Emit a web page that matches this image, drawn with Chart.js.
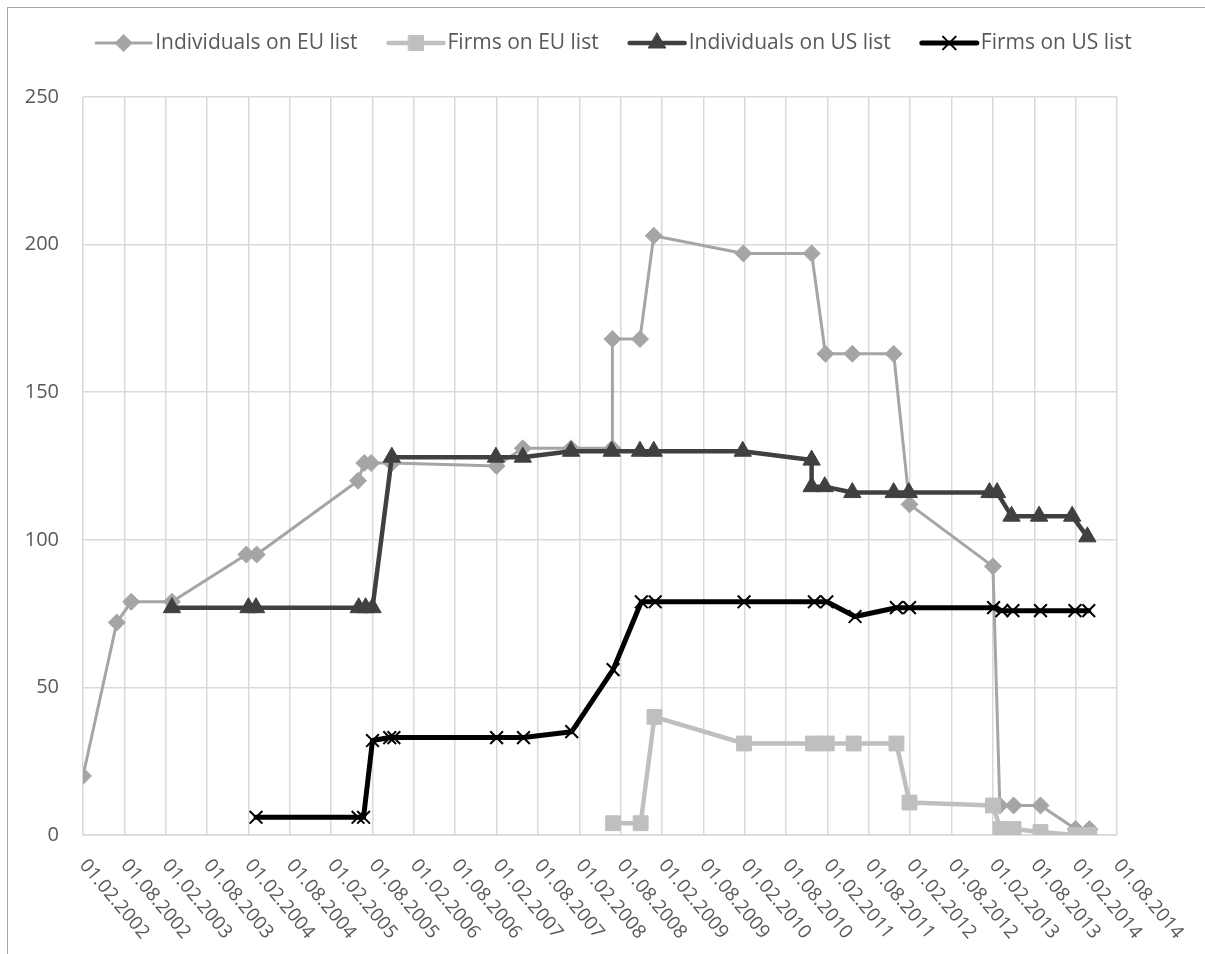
<!DOCTYPE html>
<html>
<head>
<meta charset="utf-8">
<script src="https://cdn.jsdelivr.net/npm/chart.js@4.4.0/dist/chart.umd.min.js"></script>
<style>
	html, body { margin: 0; padding: 0; background: #fff; }
	#frame {
		position: absolute; left: 7px; top: 7px; width: 1300px; height: 1000px;
		border-top: 1px solid #a6a6a6; border-left: 1px solid #a6a6a6;
	}
	#chart { position: absolute; left: 0; top: 0; }
</style>
</head>
<body>
<div id="frame"></div>
<canvas id="chart" width="1205" height="954"></canvas>
<script>
// x values are months counted from 01.02.2002
const xTickLabels = [
	"01.02.2002", "01.08.2002", "01.02.2003", "01.08.2003", "01.02.2004", "01.08.2004",
	"01.02.2005", "01.08.2005", "01.02.2006", "01.08.2006", "01.02.2007", "01.08.2007",
	"01.02.2008", "01.08.2008", "01.02.2009", "01.08.2009", "01.02.2010", "01.08.2010",
	"01.02.2011", "01.08.2011", "01.02.2012", "01.08.2012", "01.02.2013", "01.08.2013",
	"01.02.2014", "01.08.2014",
];
const yTicks = [0, 50, 100, 150, 200, 250];

const seriesNames = ["Individuals on EU list", "Firms on EU list", "Individuals on US list", "Firms on US list"];

const euIndX = [0, 4.9, 7.0, 12.9, 23.7, 25.2, 39.9, 40.8, 41.8, 44.8, 60.0, 63.8, 70.8, 76.8, 76.8, 80.8, 82.8, 95.8, 105.7, 107.7, 111.6, 117.6, 119.9, 132.0, 133.0, 135.0, 138.9, 144.0, 146.0];
const euIndY = [20, 72, 79, 79, 95, 95, 120, 126, 126, 126, 125, 131, 131, 131, 168, 168, 203, 197, 197, 163, 163, 163, 112, 91, 10, 10, 10, 2, 2];

const euFirmX = [76.9, 80.9, 82.9, 95.9, 105.9, 107.9, 111.8, 118.0, 119.9, 132.0, 133.1, 135.0, 138.9, 144.0, 146.0];
const euFirmY = [4, 4, 40, 31, 31, 31, 31, 31, 11, 10, 2, 2, 1, 0, 0];

const usIndX = [12.9, 24.0, 25.1, 40.0, 41.0, 42.0, 44.8, 59.9, 63.8, 70.8, 76.7, 80.8, 82.8, 95.7, 105.7, 105.7, 107.6, 111.6, 117.6, 119.8, 131.5, 132.6, 134.7, 138.7, 143.5, 145.7];
const usIndY = [77, 77, 77, 77, 77, 77, 128, 128, 128, 130, 130, 130, 130, 130, 127, 118, 118, 116, 116, 116, 116, 116, 108, 108, 108, 101];

const usFirmX = [25.1, 39.9, 40.7, 42.0, 44.5, 45.1, 60.0, 63.9, 70.9, 76.9, 81.0, 83.0, 95.9, 106.1, 107.9, 112.0, 118.0, 119.9, 132.1, 133.3, 134.9, 138.9, 143.9, 145.9];
const usFirmY = [6, 6, 6, 32, 33, 33, 33, 33, 35, 56, 79, 79, 79, 79, 79, 74, 77, 77, 77, 76, 76, 76, 76, 76];

const textColor = "#595959";
const gridColor = "#d9d9d9";

function toPoints(xs, ys) {
	return xs.map((x, i) => ({ x: x, y: ys[i] }));
}

function makeSet(label, xs, ys, color, lineW, style, radius, pbw, order) {
	return {
		label: label,
		data: toPoints(xs, ys),
		showLine: true,
		borderColor: color,
		backgroundColor: color,
		borderWidth: lineW,
		borderJoinStyle: "round",
		borderCapStyle: "round",
		tension: 0,
		pointStyle: style,
		pointRadius: radius,
		pointBorderWidth: pbw,
		pointBackgroundColor: color,
		pointBorderColor: color,
		order: order,
	};
}

const datasets = [
	makeSet(seriesNames[0], euIndX, euIndY, "#a5a5a5", 3, "rectRot", 8.5, 1, 4),
	makeSet(seriesNames[1], euFirmX, euFirmY, "#bfbfbf", 4.5, "rect", 10.5, 1, 3),
	makeSet(seriesNames[2], usIndX, usIndY, "#404040", 4.5, "triangle", 10, 1, 2),
	makeSet(seriesNames[3], usFirmX, usFirmY, "#000000", 5, "crossRot", 9, 2, 1),
];

// legend: line with marker in the middle, like the spreadsheet legend
const lineLegend = {
	id: "lineLegend",
	afterDraw(chart) {
		const ctx = chart.ctx;
		const y = 43;
		const lineLen = 55;
		ctx.save();
		ctx.font = '21px "Open Sans"';
		const widths = datasets.map((d) => ctx.measureText(d.label).width);
		let total = 0;
		widths.forEach((w) => (total += lineLen + 4 + w + 31));
		total -= 31;
		let x = 614 - total / 2;
		datasets.forEach((d, i) => {
			ctx.strokeStyle = d.borderColor;
			ctx.fillStyle = d.borderColor;
			ctx.lineWidth = d.borderWidth;
			ctx.lineCap = "round";
			ctx.beginPath();
			ctx.moveTo(x, y);
			ctx.lineTo(x + lineLen, y);
			ctx.stroke();
			ctx.lineWidth = d.pointBorderWidth;
			Chart.helpers.drawPoint(ctx, {
				pointStyle: d.pointStyle,
				radius: d.pointRadius,
				borderWidth: d.pointBorderWidth,
				rotation: 0,
			}, x + lineLen / 2, y);
			ctx.fillStyle = textColor;
			ctx.textAlign = "left";
			ctx.textBaseline = "middle";
			ctx.fillText(d.label, x + lineLen + 4, y);
			x += lineLen + 4 + widths[i] + 31;
		});
		ctx.restore();
	},
};

// x labels turned clockwise, starting at the tick
const slantLabels = {
	id: "slantLabels",
	afterDraw(chart) {
		const ctx = chart.ctx;
		const xs = chart.scales.x;
		const bottom = chart.chartArea.bottom;
		ctx.save();
		ctx.font = '19px "Open Sans"';
		ctx.fillStyle = textColor;
		ctx.textAlign = "left";
		ctx.textBaseline = "middle";
		xTickLabels.forEach((lab, i) => {
			const px = xs.getPixelForValue(i * 6);
			ctx.save();
			ctx.translate(px, bottom + 27);
			ctx.rotate(50 * Math.PI / 180);
			ctx.fillText(lab, 0, 0);
			ctx.restore();
		});
		ctx.restore();
	},
};

function draw() {
	new Chart(document.getElementById("chart"), {
		type: "scatter",
		data: { datasets: datasets },
		options: {
			responsive: false,
			animation: false,
			layout: { padding: { top: 97, right: 88, bottom: 119, left: 0 } },
			plugins: {
				legend: { display: false },
				tooltip: { enabled: false },
			},
			scales: {
				x: {
					type: "linear",
					min: 0,
					max: 150,
					ticks: { stepSize: 6, display: false },
					grid: { color: gridColor, lineWidth: 1.5, drawTicks: false },
					border: { color: gridColor, width: 1.5 },
					afterFit(s) { s.height = 0; },
				},
				y: {
					min: 0,
					max: 250,
					afterBuildTicks(s) { s.ticks = yTicks.map((v) => ({ value: v })); },
					ticks: {
						color: textColor,
						padding: 24,
						font: { family: "Open Sans", size: 20 },
					},
					grid: { color: gridColor, lineWidth: 1.5, drawTicks: false },
					border: { display: false },
					afterFit(s) { s.width = 83; },
				},
			},
		},
		plugins: [lineLegend, slantLabels],
	});
}

document.fonts.load('20px "Open Sans"').then(draw, draw);
</script>
</body>
</html>
